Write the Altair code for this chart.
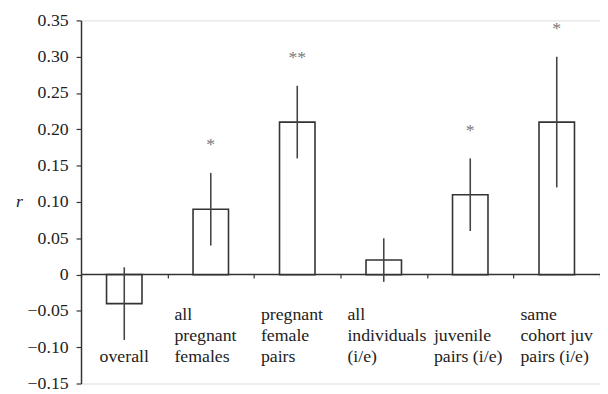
import altair as alt
import pandas as pd

categories = ["overall", "all pregnant females", "pregnant female pairs",
              "all individuals (i/e)", "juvenile pairs (i/e)", "same cohort juv pairs (i/e)"]
labels = ["overall", "all\npregnant\nfemales", "pregnant\nfemale\npairs",
          "all\nindividuals\n(i/e)", "\njuvenile\npairs (i/e)", "same\ncohort juv\npairs (i/e)"]
r_values = [-0.04, 0.09, 0.21, 0.02, 0.11, 0.21]
err_low = [-0.09, 0.04, 0.16, -0.01, 0.06, 0.12]
err_high = [0.01, 0.14, 0.26, 0.05, 0.16, 0.30]
stars = ["", "*", "**", "", "*", "*"]
y_ticks = [-0.15, -0.10, -0.05, 0, 0.05, 0.10, 0.15, 0.20, 0.25, 0.30, 0.35]

df = pd.DataFrame({"cat": categories, "label": labels, "r": r_values,
                   "lo": err_low, "hi": err_high, "star": stars})

FONT = "Liberation Serif"
INK = "#333333"

xscale = alt.Scale(domain=categories, paddingInner=0, paddingOuter=0)
yscale = alt.Scale(domain=[-0.15, 0.35], nice=False, zero=False)

x_enc = alt.X("cat:N", sort=categories, scale=xscale,
              axis=alt.Axis(title=None, labels=False, orient="bottom", offset=-111,
                            tickBand="extent", tickSize=4, tickColor=INK, tickWidth=1.2,
                            domainColor=INK, domainWidth=1.5))

bars = alt.Chart(df).mark_bar(width={"band": 0.41}, fill="white", stroke=INK,
                              strokeWidth=1.6).encode(
    x=x_enc,
    y=alt.Y("r:Q", scale=yscale,
            axis=alt.Axis(values=y_ticks, tickCount=30, format=".2f",
                          labelExpr="datum.value == 0 ? '0' : datum.label",
                          labelOverlap=False, labelBound=False, labelFlush=False,
                          grid=False, tickSize=5, tickColor=INK, tickWidth=1.2,
                          domainColor=INK, domainWidth=1.5,
                          labelFont=FONT, labelFontSize=18, labelColor="#222222",
                          labelPadding=8,
                          title="r", titleFont=FONT, titleFontStyle="italic",
                          titleFontWeight="normal", titleFontSize=18, titleColor="#222222",
                          titleAngle=0, titleX=-63, titleY=184, titleAlign="center",
                          titleBaseline="middle")),
    y2=alt.datum(0),
)

errs = alt.Chart(df).mark_rule(color="#444444", strokeWidth=1.6).encode(
    x=alt.X("cat:N", sort=categories, scale=xscale),
    y=alt.Y("lo:Q", scale=yscale),
    y2="hi:Q",
)

star_text = alt.Chart(df).mark_text(font=FONT, fontSize=18, color="#777777",
                                    baseline="alphabetic", dy=-23).encode(
    x=alt.X("cat:N", sort=categories, scale=xscale),
    y=alt.Y("hi:Q", scale=yscale),
    text="star:N",
)

lab_left = alt.Chart(df[df["cat"] != "overall"]).mark_text(
    font=FONT, fontSize=18, color="#222222", align="left", baseline="alphabetic",
    lineBreak="\n", lineHeight=21.5, dx=7).encode(
    x=alt.X("cat:N", sort=categories, scale=xscale, bandPosition=0),
    y=alt.datum(-0.0625),
    text="label:N",
)

lab_center = alt.Chart(df[df["cat"] == "overall"]).mark_text(
    font=FONT, fontSize=18, color="#222222", align="center", baseline="alphabetic").encode(
    x=alt.X("cat:N", sort=categories, scale=xscale),
    y=alt.datum(-0.121),
    text="label:N",
)

chart = alt.layer(bars, errs, star_text, lab_left, lab_center).properties(
    width=526, height=368,
    autosize=alt.AutoSizeParams(type="none"),
    padding={"left": 74, "top": 10, "right": 0, "bottom": 6},
).configure_view(stroke=None).configure(background="white")

chart.save("out.html", embed_options={"renderer": "svg", "actions": False})
